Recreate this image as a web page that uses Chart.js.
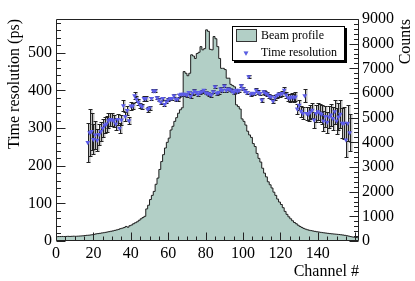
<!DOCTYPE html>
<html>
<head>
<meta charset="utf-8">
<script src="https://cdn.jsdelivr.net/npm/chart.js@4.4.0/dist/chart.umd.min.js"></script>
<style>
  html, body { margin: 0; padding: 0; background: #fff; }
</style>
</head>
<body>
<canvas id="beamChart" width="415" height="281"></canvas>
<script>
// beam profile: counts per channel (bin i covers channel i .. i+1)
const counts = [
  175, 180, 180, 185, 180, 185, 190, 185, 190, 195,
  190, 195, 200, 205, 210, 220, 230, 235, 245, 255,
  270, 290, 300, 310, 325, 335, 350, 365, 380, 395,
  410, 430, 450, 470, 500, 520, 545, 590, 560, 620,
  650, 700, 740, 780, 840, 900, 950, 1000, 1300, 1450,
  1680, 1850, 2010, 2300, 2550, 2900, 3220, 3500, 3770, 4000,
  4170, 4500, 4650, 4850, 5000, 5180, 5320, 5400, 6870, 6800,
  6700, 6800, 7550, 7500, 7400, 7600, 7650, 7880, 7750, 7800,
  8560, 8500, 7770, 7750, 8290, 8200, 7880, 7400, 7000, 7000,
  6950, 6600, 6600, 6350, 6300, 6250, 5520, 5450, 5350, 4950,
  4850, 4700, 4450, 4300, 4200, 3950, 3830, 3550, 3350, 3200,
  2950, 2750, 2600, 2400, 2280, 2150, 1980, 1850, 1700, 1580,
  1480, 1350, 1200, 1080, 980, 900, 820, 750, 700, 640,
  590, 550, 510, 480, 455, 435, 420, 405, 390, 375,
  365, 352, 340, 330, 320, 310, 300, 292, 285, 278,
  270, 262, 252, 242, 230, 215, 200, 180, 165, 155,
  145, 135
];

// time resolution points
const resChannel = [
  17, 18, 19, 20, 21, 22, 23, 24, 25, 26, 27, 28, 29, 30, 31, 32, 33, 34, 35, 36,
  37, 38, 39, 40, 41, 42, 43, 44, 45, 46, 47, 48, 49, 50, 51, 52, 53, 54, 55, 56,
  57, 58, 59, 60, 61, 62, 63, 64, 65, 66, 67, 68, 69, 70, 71, 72, 73, 74, 75, 76,
  77, 78, 79, 80, 81, 82, 83, 84, 85, 86, 87, 88, 89, 90, 91, 92, 93, 94, 95, 96,
  97, 98, 99, 100, 101, 102, 103, 104, 105, 106, 107, 108, 109, 110, 111, 112, 113, 114, 115, 116,
  117, 118, 119, 120, 121, 122, 123, 124, 125, 126, 127, 128, 129, 130, 131, 132, 133, 134, 135, 136,
  137, 138, 139, 140, 141, 142, 143, 144, 145, 146, 147, 148, 149, 150, 151, 152, 153, 154, 155, 156,
  157
];
const resValue = [
  262, 288, 291, 270, 282, 268, 283, 291, 300, 308, 311, 320, 323, 322, 320, 311, 323, 300, 322, 360,
  331, 347, 320, 359, 359, 386, 377, 369, 361, 357, 379, 379, 350, 354, 379, 399, 399, 381, 375, 369,
  379, 363, 370, 375, 379, 379, 386, 377, 377, 388, 390, 390, 390, 388, 395, 385, 393, 399, 395, 390,
  395, 397, 401, 394, 392, 390, 388, 397, 410, 393, 395, 404, 400, 412, 401, 404, 402, 399, 395, 401,
  397, 401, 413, 405, 399, 395, 437, 390, 393, 392, 401, 395, 392, 375, 397, 393, 390, 385, 383, 372,
  381, 386, 390, 390, 392, 401, 388, 381, 380, 383, 381, 383, 351, 361, 345, 339, 386, 339, 337, 343,
  348, 322, 339, 344, 340, 337, 319, 331, 316, 330, 335, 326, 344, 319, 330, 337, 313, 313, 269, 313,
  288
];
const resError = [
  52, 62, 48, 40, 38, 30, 28, 26, 24, 22, 20, 19, 18, 17, 16, 15, 14, 13, 13, 14,
  12, 11, 10, 10, 9, 9, 8, 8, 7, 7, 6, 6, 6, 5, 4, 4, 4, 4, 4, 4,
  4, 4, 4, 4, 4, 4, 4, 4, 4, 4, 4, 4, 4, 4, 4, 4, 4, 4, 4, 4,
  4, 4, 4, 4, 4, 4, 4, 4, 4, 4, 4, 4, 4, 4, 4, 4, 4, 4, 4, 4,
  4, 4, 4, 4, 4, 4, 4, 4, 4, 5, 5, 5, 5, 5, 5, 5, 5, 5, 5, 6,
  6, 6, 6, 6, 7, 8, 8, 9, 10, 10, 11, 12, 13, 14, 15, 16, 17, 18, 18, 19,
  20, 21, 22, 23, 24, 25, 26, 27, 28, 29, 30, 31, 32, 34, 36, 38, 40, 42, 45, 48,
  50
];

// axis tick labels
const channelTicks = [0, 20, 40, 60, 80, 100, 120, 140];
const resTicks = [0, 100, 200, 300, 400, 500];
const countTicks = [0, 1000, 2000, 3000, 4000, 5000, 6000, 7000, 8000, 9000];

const serif = "'Liberation Serif', 'DejaVu Serif', serif";
const fillColor = '#b2cfc6';
const markerColor = '#5c5ce8';

// histogram as step line, bin edge = channel index
const histData = counts.map((c, i) => ({ x: i, y: c }));
histData.push({ x: counts.length, y: counts[counts.length - 1] });

// inward ticks + frame, ROOT style
function tickLoop(scale, minorStep, majorStep, draw) {
    for (let v = scale.min; v <= scale.max + 1e-6; v += minorStep) {
        const major = Math.abs(v / majorStep - Math.round(v / majorStep)) < 1e-6;
        draw(scale.getPixelForValue(v), major);
    }
}

const frameTicks = {
    id: 'frameTicks',
    afterDraw(chart) {
        const { ctx, chartArea: a, scales } = chart;
        const L = Math.round(a.left) + 0.5, R = Math.round(a.right) - 0.5;
        const T = Math.round(a.top) + 0.5, B = Math.round(a.bottom) - 0.5;
        ctx.save();
        ctx.strokeStyle = '#222';
        ctx.lineWidth = 1;
        ctx.beginPath();
        ctx.moveTo(L, T); ctx.lineTo(R, T); ctx.lineTo(R, B); ctx.lineTo(L, B); ctx.closePath();
        tickLoop(scales.x, 5, 20, (px, major) => {
            const x = Math.round(px) + 0.5;
            ctx.moveTo(x, B); ctx.lineTo(x, B - (major ? 8 : 4));
        });
        tickLoop(scales.y, 20, 100, (py, major) => {
            const y = Math.round(py) + 0.5;
            ctx.moveTo(L, y); ctx.lineTo(L + (major ? 9 : 4.5), y);
        });
        tickLoop(scales.y2, 200, 1000, (py, major) => {
            const y = Math.round(py) + 0.5;
            ctx.moveTo(R, y); ctx.lineTo(R - (major ? 9 : 4.5), y);
        });
        ctx.stroke();

        // right axis title, reads bottom to top
        ctx.fillStyle = '#000';
        ctx.font = '16px ' + serif;
        ctx.translate(406, a.top);
        ctx.rotate(-Math.PI / 2);
        ctx.textAlign = 'right';
        ctx.textBaseline = 'middle';
        ctx.fillText('Counts', 0, 0);
        ctx.restore();

        // legend box
        ctx.save();
        ctx.fillStyle = '#000';
        ctx.fillRect(234, 61, 113, 2);
        ctx.fillRect(345, 28, 2, 35);
        ctx.fillStyle = '#fff';
        ctx.fillRect(232, 26, 113, 35);
        ctx.strokeStyle = '#000';
        ctx.strokeRect(232.5, 26.5, 112, 34);
        ctx.fillStyle = fillColor;
        ctx.fillRect(236.5, 29.5, 20, 12);
        ctx.strokeStyle = '#333';
        ctx.strokeRect(236.5, 29.5, 20, 12);
        Chart.helpers.drawPoint(ctx, {
            pointStyle: 'triangle', rotation: 180, radius: 2.8, borderWidth: 0
        }, 246, 53);
        ctx.fillStyle = markerColor;
        ctx.fill();
        ctx.fillStyle = '#000';
        ctx.font = '12px ' + serif;
        ctx.textBaseline = 'middle';
        ctx.fillText('Beam profile', 261, 36);
        ctx.fillText('Time resolution', 261, 53);
        ctx.restore();
    }
};

// error bars drawn right after the histogram, under the markers
const errorBars = {
    id: 'errorBars',
    afterDatasetDraw(chart, args) {
        if (args.index !== 1) return;
        const { ctx } = chart;
        const y = chart.scales.y;
        const pts = chart.getDatasetMeta(0).data;
        ctx.save();
        pts.forEach((pt, i) => {
            const top = Math.round(y.getPixelForValue(resValue[i] + resError[i])) + 0.5;
            const bot = Math.round(y.getPixelForValue(resValue[i] - resError[i])) + 0.5;
            const x = Math.round(pt.x) + 0.5;
            ctx.fillStyle = 'rgba(165,165,165,0.7)';
            ctx.fillRect(x + 0.5, top, 1.5, bot - top);
            ctx.strokeStyle = '#222';
            ctx.lineWidth = 1;
            ctx.beginPath();
            ctx.moveTo(x, top); ctx.lineTo(x, bot);
            ctx.moveTo(x - 2, top); ctx.lineTo(x + 2, top);
            ctx.moveTo(x - 2, bot); ctx.lineTo(x + 2, bot);
            ctx.stroke();
        });
        ctx.restore();
    }
};

const tickFont = { family: serif, size: 16 };
const setTicks = list => s => { s.ticks = list.map(v => ({ value: v })); };

new Chart(document.getElementById('beamChart'), {
    type: 'line',
    data: {
        datasets: [
            {
                type: 'scatter',
                label: 'Time resolution',
                data: resChannel.map((c, i) => ({ x: c, y: resValue[i] })),
                xAxisID: 'x',
                yAxisID: 'y',
                order: 1,
                showLine: false,
                pointStyle: 'triangle',
                rotation: 180,
                pointRadius: 2.8,
                pointBorderWidth: 0,
                backgroundColor: markerColor,
                borderColor: markerColor
            },
            {
                label: 'Beam profile',
                data: histData,
                xAxisID: 'x',
                yAxisID: 'y2',
                order: 2,
                stepped: true,
                fill: 'origin',
                backgroundColor: fillColor,
                borderColor: '#1e1e1e',
                borderWidth: 1,
                pointRadius: 0,
                tension: 0
            }
        ]
    },
    options: {
        responsive: false,
        animation: false,
        devicePixelRatio: 1,
        layout: { padding: { top: 19, left: 0, right: 0, bottom: 0 } },
        plugins: {
            legend: { display: false },
            tooltip: { enabled: false }
        },
        scales: {
            x: {
                type: 'linear', position: 'bottom', min: 0, max: 162,
                grid: { display: false, drawTicks: false },
                border: { display: false },
                ticks: {
                    padding: 3, font: tickFont, color: '#000',
                    maxRotation: 0, autoSkip: false, callback: v => String(v)
                },
                title: {
                    display: true, text: 'Channel #', align: 'end',
                    font: tickFont, color: '#000', padding: 0
                },
                afterBuildTicks: setTicks(channelTicks),
                afterFit: s => { s.height = 40; }
            },
            y: {
                type: 'linear', position: 'left', min: 0, max: 590,
                grid: { display: false, drawTicks: false },
                border: { display: false },
                ticks: { padding: 4, font: tickFont, color: '#000', autoSkip: false, callback: v => String(v) },
                title: {
                    display: true, text: 'Time resolution (ps)', align: 'end',
                    font: tickFont, color: '#000', padding: { top: 5, bottom: 0 }
                },
                afterBuildTicks: setTicks(resTicks),
                afterFit: s => { s.width = 56; }
            },
            y2: {
                type: 'linear', position: 'right', min: 0, max: 9000,
                grid: { display: false, drawTicks: false },
                border: { display: false },
                ticks: { padding: 3, font: tickFont, color: '#000', autoSkip: false, callback: v => String(v) },
                afterBuildTicks: setTicks(countTicks),
                afterFit: s => { s.width = 56; }
            }
        }
    },
    plugins: [errorBars, frameTicks]
});
</script>
</body>
</html>
